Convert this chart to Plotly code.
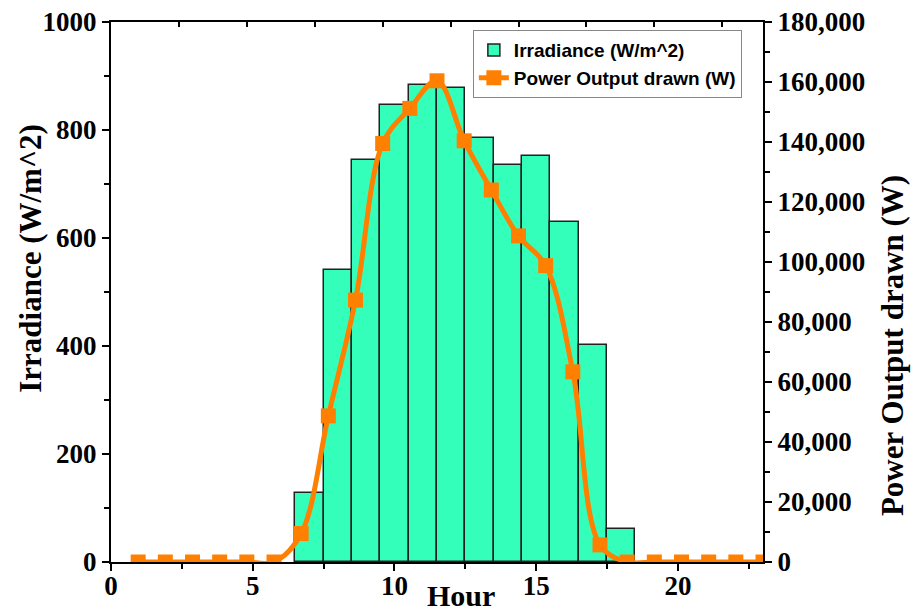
import plotly.graph_objects as go

# Irradiance bars (W/m^2)
bar_hours = [7, 8, 9, 10, 11, 12, 13, 14, 15, 16, 17, 18]
irradiance = [128, 540, 745, 846, 883, 877, 785, 736, 752, 630, 401, 62]

# Power output drawn (W), hourly points 1..24
power_hours = list(range(1, 25))
power = [0, 0, 0, 0, 0, 0, 9500, 48700, 87300, 139500, 151200, 160400,
         140400, 124000, 108700, 98800, 63400, 5700, 0, 0, 0, 0, 0, 0]

x_ticks = [0, 5, 10, 15, 20]

serif = dict(family="Liberation Serif", size=27, color="black", weight="bold")
title_font = dict(family="Liberation Serif", size=31, color="black", weight="bold")

fig = go.Figure()
fig.add_trace(go.Bar(
    x=bar_hours, y=irradiance, width=1,
    name="Irradiance (W/m^2)",
    marker=dict(color="#33FFBB", line=dict(color="#222222", width=1.5)),
    xaxis="x", yaxis="y",
))
fig.add_trace(go.Scatter(
    x=power_hours, y=power, name="Power Output drawn (W)",
    mode="lines+markers",
    line=dict(color="#FF8000", width=5, shape="spline", smoothing=1.0),
    marker=dict(symbol="square", size=15, color="#FF8000"),
    xaxis="x2", yaxis="y2",
))

axis_common = dict(showline=True, linecolor="black", linewidth=2, showgrid=False,
                   zeroline=False, ticks="outside", tickcolor="black", tickwidth=2,
                   ticklen=7, automargin=False)

fig.update_layout(
    width=913, height=611,
    margin=dict(l=111, r=150, t=22, b=49, autoexpand=False),
    plot_bgcolor="white", paper_bgcolor="white",
    bargap=0,
    xaxis=dict(range=[0, 23], tickvals=x_ticks, tickfont=serif,
               ticklabelstandoff=-8,
               minor=dict(dtick=2.5, tick0=0, ticks="outside", ticklen=5,
                          tickcolor="black", tickwidth=2),
               **axis_common),
    xaxis2=dict(range=[0, 24], overlaying="x", side="top", anchor="y",
                showline=True, linecolor="black", linewidth=2, showgrid=False,
                zeroline=False, ticks="inside", tickcolor="black", tickwidth=2,
                ticklen=5, dtick=2.5, tick0=0, showticklabels=False,
                automargin=False),
    yaxis=dict(range=[0, 1000], dtick=200, tickfont=serif,
               minor=dict(dtick=100, ticks="outside", ticklen=5,
                          tickcolor="black", tickwidth=2),
               **axis_common),
    yaxis2=dict(range=[0, 180000], dtick=20000, tickformat=",", side="right",
                overlaying="y", anchor="x", tickfont=serif,
                minor=dict(dtick=10000, ticks="outside", ticklen=5,
                           tickcolor="black", tickwidth=2),
                **axis_common),
    legend=dict(x=0.555, y=0.985, xanchor="left", yanchor="top",
                bgcolor="white", bordercolor="#888888", borderwidth=1,
                font=dict(family="Liberation Sans", size=19, color="black",
                          weight="bold"),
                tracegroupgap=0),
    showlegend=True,
    annotations=[
        dict(text="Hour", xref="paper", yref="paper", x=0.537, y=-0.062,
             xanchor="center", yanchor="middle", showarrow=False,
             font=dict(family="Liberation Serif", size=30, color="black",
                       weight="bold")),
        dict(text="Irradiance (W/m^2)", xref="paper", yref="paper", x=-0.123,
             y=0.563, xanchor="center", yanchor="middle", textangle=-90,
             showarrow=False, font=title_font),
        dict(text="Power Output drawn (W)", xref="paper", yref="paper", x=1.198,
             y=0.40, xanchor="center", yanchor="middle", textangle=-90,
             showarrow=False, font=title_font),
    ],
)

fig.write_html("out.html")
